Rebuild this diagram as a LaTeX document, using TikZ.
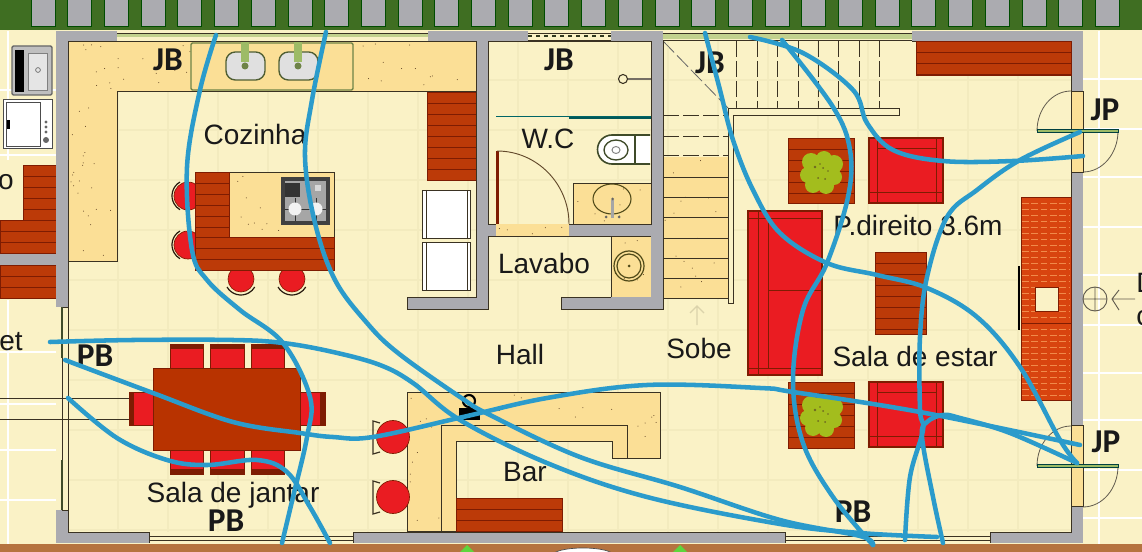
\documentclass[tikz,border=0pt]{standalone}
\usepackage{fontspec}
\setmainfont{Liberation Sans}
\newfontfamily\boldlab{Carlito}[BoldFont={Carlito Bold}]
\definecolor{floorc}{HTML}{FAF2C6}
\definecolor{gridc}{HTML}{F3EBBE}
\definecolor{bandg}{HTML}{3F6E22}
\definecolor{wallg}{HTML}{ABABB0}
\definecolor{earth}{HTML}{B5733F}
\definecolor{sandc}{HTML}{FBDF96}
\definecolor{woodc}{HTML}{BC3A08}
\definecolor{woodl}{HTML}{7E1C02}
\definecolor{sofac}{HTML}{EA1C22}
\definecolor{tablec}{HTML}{B83300}
\definecolor{brickc}{HTML}{D8440F}
\definecolor{brickl}{HTML}{F08A4A}
\definecolor{bluec}{HTML}{2B9BCB}
\definecolor{greenl}{HTML}{9DBB66}
\definecolor{bushc}{HTML}{A3BD1D}
\definecolor{linec}{HTML}{3A3222}
\tikzset{
 wallbox/.style={fill=wallg,draw=none},
 sandbox/.style={fill=sandc,draw=linec,line width=.6pt},
 thinline/.style={draw=linec,line width=.6pt},
 dashline/.style={draw=linec,line width=.6pt,dash pattern=on 12pt off 3pt},
 route/.style={draw=bluec,line width=3.4pt,line cap=round,line join=round},
 roomlabel/.style={font=\fontsize{21}{21}\selectfont,text=black!90,inner sep=0pt},
 codelabel/.style={font=\boldlab\bfseries\fontsize{25}{25}\selectfont,text=black!90,inner sep=0pt},
}
% wood block with plank lines
\newcommand{\woodblock}[4]{%
 \fill[woodc] (#1,#2) rectangle (#3,#4);
 \pgfmathsetmacro{\ystep}{#2+11}
 \foreach \yy in {#2,\ystep,...,#4} {\draw[woodl,line width=.4pt] (#1,\yy) -- (#3,\yy);}
 \draw[woodl,line width=.6pt] (#1,#2) rectangle (#3,#4);}
% speckles
\newcommand{\specks}[5]{%
 \foreach \ii in {1,...,#5} {
  \pgfmathsetmacro{\px}{#1+rnd*(#3-#1)}
  \pgfmathsetmacro{\py}{#2+rnd*(#4-#2)}
  \fill[black!55!brown] (\px,\py) circle[radius=.5];}}
% chair
\newcommand{\chairbox}[4]{\fill[sofac,draw=woodl,line width=.5pt] (#1,#2) rectangle (#3,#4);}
% bush
\newcommand{\bushat}[2]{%
 \begin{scope}[shift={(#1,#2)}]
 \fill[bushc] (-10,-10) circle[radius=9] (3,-13) circle[radius=8] (13,-8) circle[radius=9] (-13,3) circle[radius=8] (13,5) circle[radius=8] (-8,13) circle[radius=8] (5,14) circle[radius=8] (0,0) circle[radius=12];
 \fill[olive!70!black] (-6,-5) circle[radius=1.3] (2,-4) circle[radius=1] (-3,6) circle[radius=1] (4,7) circle[radius=1] (-1,-8) circle[radius=.9] (7,-1) circle[radius=.9];
 \end{scope}}
\begin{document}
\begin{tikzpicture}[x=0.75pt,y=-0.75pt]
\clip (0,0) rectangle (1142,552);
\fill[floorc] (0,0) rectangle (1142,552);
% faint floor grid
\foreach \xx in {118,168,218,268,318,368,418,468,518,568,618,668,718,768,818,868,918,968,1018} {\draw[gridc,line width=.8pt] (\xx,41) -- (\xx,532);}
\foreach \yy in {80,130,180,230,280,330,380,430,480,530} {\draw[gridc,line width=.8pt] (68,\yy) -- (1071,\yy);}
% outside tiles
\foreach \yy in {79,129,177,227,275,325,373,420,470,518} {\draw[white,line width=1.5pt] (1083,\yy) -- (1142,\yy);}
\draw[white,line width=1.5pt] (1099,31) -- (1099,545);
\foreach \yy in {352,404,450,500} {\draw[white,line width=1.5pt] (0,\yy) -- (56,\yy);}
\draw[white,line width=1.5pt] (8,300) -- (8,545);
\draw[white,line width=1.5pt] (0,90) -- (56,90) (0,155) -- (56,155);
\draw[white,line width=1.5pt] (8,31) -- (8,160);
% top band
\fill[bandg] (0,0) rectangle (1142,30);
\foreach \ii in {0,...,29} {
 \pgfmathsetmacro{\xa}{31+36.7*\ii}
 \fill[wallg,draw=black!70!green,line width=.5pt] (\xa,-2) rectangle (\xa+24,26);}
% bottom band
\fill[earth] (0,544) rectangle (1142,552);
\fill[greenl!60!green] (460,552) -- (467,545) -- (474,552) -- cycle (673,552) -- (680,545) -- (687,552) -- cycle;
\fill[white,draw=black!70,line width=.5pt] (553,555) arc[start angle=180,end angle=360,x radius=30,y radius=7];
% kitchen counters
\draw[sandbox] (68,41) -- (476,41) -- (476,91) -- (117,91) -- (117,261) -- (68,261) -- cycle;
\pgfmathsetseed{4242}
\specks{70}{44}{115}{258}{32}
\specks{118}{44}{190}{88}{12}
\specks{356}{44}{474}{88}{12}
% sink
\draw[fill=sandc,draw=greenl!70!black,line width=1.1pt,rounded corners=1pt] (191,43) rectangle (353,90);
\foreach \xa in {226,279} {
 \draw[fill=black!12,draw=greenl!50!black,line width=1pt,rounded corners=7pt] (\xa,52) rectangle (\xa+39,80);
 \fill[greenl] (\xa+15,41) rectangle (\xa+23,62);
 \fill[greenl!70!black] (\xa+19,66) circle[radius=3.5];}
% wood cabinet, appliances
\woodblock{427}{92}{476}{180}
\foreach \yt in {190,242} {
 \draw[fill=white,draw=linec,line width=.6pt] (422,\yt) rectangle (470,\yt+48);
 \draw[linec,line width=.6pt] (426,\yt) -- (426,\yt+48) (467,\yt) -- (467,\yt+48);}
% outside appliances
\draw[fill=black!25,draw=black!60,line width=1pt,rounded corners=1pt] (12,46) rectangle (52,95);
\fill[black] (15,50) rectangle (24,92);
\draw[fill=black!10,draw=black!50,line width=.5pt] (28,53) rectangle (47,90);
\draw[black!60,line width=.5pt] (38,70) circle[radius=2.4];
\draw[fill=white,draw=black!70,line width=.7pt] (3,99) rectangle (52,148);
\draw[black!70,line width=.7pt] (6,102) rectangle (40,146);
\fill[black] (7,120) rectangle (10,129);
\foreach \yy in {122,127,132} {\fill[black!60] (46,\yy) circle[radius=1.6];}
\fill[black!60] (46,140) circle[radius=3];
% outside wood
\woodblock{23}{165}{56}{220}
\woodblock{0}{220}{56}{254}
\fill[wallg] (0,254) rectangle (56,265);
\woodblock{0}{265}{56}{298}
% kitchen stools
\foreach \cy in {196,245} {
 \fill[sofac,draw=woodl,line width=.5pt] (188,\cy) circle[radius=14];
 \draw[black!80!brown,line width=.9pt] (180,\cy-14) arc[start angle=240,end angle=120,radius=16];}
\foreach \cx in {241,292} {
 \fill[sofac,draw=woodl,line width=.5pt] (\cx,279) circle[radius=13];
 \draw[black!80!brown,line width=.9pt] (\cx-14,287) arc[start angle=150,end angle=30,radius=16];}
% island
\draw[sandbox] (229,172) rectangle (334,237);
\woodblock{195}{172}{229}{270}
\woodblock{195}{237}{334}{270}
\specks{232}{175}{279}{235}{10}
\fill[black!75] (281,177) rectangle (330,225);
\fill[black!35] (285,181) rectangle (326,221);
\fill[black!80] (285,183) rectangle (300,197);
\fill[black!15] (315,185) rectangle (321,191);
\draw[black!80,line width=.6pt] (285,209) -- (326,209) (295,198) -- (295,221) (316,198) -- (316,221);
\fill[black!5] (295,209) circle[radius=6.5] (316,209) circle[radius=6.5];
% WC and lavabo fixtures
\draw[sandbox] (573,183) rectangle (651,224);
\draw[sandbox] (611,236) rectangle (651,297);
\pgfmathsetseed{77}
\specks{575}{186}{649}{222}{8}
\specks{613}{238}{649}{295}{6}
\draw[draw=linec!70!olive,line width=.8pt] (612,199) ellipse[x radius=19,y radius=15];
\fill[black!35] (611,200) rectangle (614,218);
\fill[black!60] (612.5,199) circle[radius=1.5] (606,217) circle[radius=1.5] (619,217) circle[radius=1.5];
\draw[linec!70!olive,line width=.9pt] (629,266) circle[radius=15] (629,266) circle[radius=12];
\fill[linec!70!olive] (629,266) circle[radius=1.5];
% toilet
\draw[fill=white,draw=greenl!40!black,line width=1.2pt] (650,135) -- (612,135) arc[start angle=-90,end angle=-270,radius=14.5] -- (650,164);
\draw[draw=greenl!40!black,line width=1pt] (616,150) ellipse[x radius=12,y radius=10];
\draw[black!50,line width=.7pt] (616,150) ellipse[x radius=4,y radius=3.5];
\draw[greenl!40!black,line width=1pt] (635,135) -- (635,164);
% shower
\draw[linec,fill=floorc,line width=.8pt] (623,79) circle[radius=4.5];
\draw[linec!70,line width=1.2pt] (628,79) -- (651,79);
\draw[teal!80!black,line width=1.4pt] (496,116.5) -- (651,116.5);
\draw[teal!70!black,line width=2pt] (569,118) -- (651,118);
% bath door
\fill[woodl] (496,151) rectangle (499,224);
\draw[linec!70!brown,line width=.7pt] (497,151) arc[start angle=-90,end angle=0,x radius=72,y radius=73];
% stairs
\fill[sandc] (663,157) rectangle (728,298);
\pgfmathsetseed{31}
\specks{665}{160}{726}{296}{16}
\foreach \yy in {177,197,217,238,258,278,298} {\draw[thinline] (663,\yy) -- (733,\yy);}
\foreach \yy in {115,136,155} {\draw[dashline] (663,\yy) -- (728,\yy);}
\foreach \xx in {736,757,777,798,818,838,859,879} {\draw[dashline] (\xx,41) -- (\xx,115);}
\draw[dashline,draw=black!60] (663,41) -- (728,108);
\draw[thinline,fill=floorc] (728,108) -- (899,108) -- (899,115) -- (733,115) -- (733,303) -- (728,303) -- cycle;
% walls
\fill[wallg] (56,31) rectangle (68,307);
\fill[wallg] (56,510) rectangle (68,543);
\fill[wallg] (56,31) rectangle (117,41);
\fill[wallg] (428,31) rectangle (528,41);
\fill[wallg] (611,31) rectangle (663,41);
\fill[wallg] (912,31) rectangle (1083,41);
\fill[wallg] (1071,31) rectangle (1083,91);
\fill[wallg] (1071,172) rectangle (1083,425);
\fill[wallg] (1071,506) rectangle (1083,543);
\fill[wallg] (56,532) rectangle (149,543);
\fill[wallg] (353,532) rectangle (785,543);
\fill[wallg] (990,532) rectangle (1083,543);
\fill[wallg] (476,31) rectangle (488,309);
\fill[wallg] (651,31) rectangle (663,309);
\fill[wallg] (407,297) rectangle (488,309);
\fill[wallg] (561,297) rectangle (663,309);
\fill[wallg] (488,224) rectangle (496,236);
\fill[wallg] (569,224) rectangle (651,236);
\fill[sandc] (496,224) rectangle (569,236);
\pgfmathsetseed{99}
\specks{498}{226}{567}{234}{5}
\draw[linec,line width=.6pt] (68,41) -- (68,532) -- (149,532) (353,532) -- (785,532) (990,532) -- (1071,532) -- (1071,506) (1071,425) -- (1071,172) (1071,91) -- (1071,41) -- (912,41);
\draw[linec,line width=.6pt] (488,41) -- (488,224) -- (496,224) (569,224) -- (651,224) -- (651,41) -- (488,41) (476,41) -- (476,297) -- (407,297) (488,236) -- (488,309) -- (407,309) -- (407,297) (561,297) -- (611,297) (561,297) -- (561,309) -- (663,309) -- (663,41) (488,236) -- (611,236) (117,41) -- (428,41);
% windows
\fill[floorc] (117,31) rectangle (428,41);
\draw[linec,line width=.5pt] (117,33) -- (428,33) (117,41) -- (428,41);
\fill[greenl!60!floorc] (117,34) rectangle (428,37);
\fill[floorc] (528,31) rectangle (611,41);
\draw[dashed,greenl!30!black,line width=1pt] (528,36) -- (611,36);
\draw[linec,line width=.5pt] (528,33) -- (611,33) (528,40) -- (611,40);
\fill[greenl!60!floorc] (663,33) rectangle (912,39);
\draw[linec,line width=.5pt] (663,33) -- (912,33) (663,40) -- (912,40);
\draw[linec,line width=.5pt] (62,307) rectangle (68,510);
\draw[greenl!40!black,line width=1.2pt] (62,307) -- (62,358) (62,460) -- (62,510);
\fill[floorc] (149,533) rectangle (353,543);
\draw[linec,line width=.5pt] (149,536) -- (353,536) (149,540) -- (353,540) (149,532) -- (149,543) (353,532) -- (353,543);
\fill[floorc] (785,533) rectangle (990,543);
\draw[linec,line width=.5pt] (785,536) -- (990,536) (785,540) -- (990,540) (785,532) -- (785,543) (990,532) -- (990,543);
\draw[linec,line width=.6pt] (0,398) -- (129,398) (0,419) -- (129,419);
% doors right
\foreach \ya/\yb in {91/131,425/466} {
 \fill[sandc,draw=linec,line width=.5pt] (1071,\ya) rectangle (1083,\ya+81);
 \draw[linec!80,line width=.6pt] (1037,\yb) arc[start angle=180,end angle=270,x radius=34,y radius=40];
 \draw[linec!80,line width=.6pt] (1118,\yb) arc[start angle=0,end angle=90,x radius=35,y radius=41];
 \draw[fill=greenl,draw=teal!50!black,line width=.5pt] (1037,\yb-1.5) rectangle (1118,\yb+1.5);}
% right wood
\woodblock{916}{41}{1071}{75}
% living room furniture
\woodblock{788}{138}{854}{203}
\bushat{821}{172}
\woodblock{788}{382}{854}{448}
\bushat{821}{415}
\foreach \ya in {138,382} {
 \fill[sofac,draw=woodl,line width=.8pt] (869,\ya) rectangle (943,\ya+65);
 \draw[woodl,line width=.5pt] (877,\ya) -- (877,\ya+65) (936,\ya) -- (936,\ya+65) (877,\ya+10) -- (936,\ya+10) (869,\ya+54) -- (943,\ya+54);}
% sofa
\fill[sofac,draw=woodl,line width=.8pt] (748,211) rectangle (822,375);
\draw[woodl,line width=.5pt] (758,211) -- (758,375) (768,218) -- (768,368) (748,218) -- (822,218) (748,368) -- (822,368) (768,290) -- (822,290);
% coffee table
\woodblock{875}{252}{926}{334}
% fireplace
\fill[brickc,draw=woodl,line width=.5pt] (1021,197) rectangle (1071,400);
\foreach \yy in {203,209,...,397} {\draw[brickl,line width=.5pt,dash pattern=on 5pt off 2pt] (1022,\yy) -- (1070,\yy);}
\fill[floorc,draw=woodl,line width=.5pt] (1035,287) rectangle (1058,311);
\draw[black,line width=2pt] (1019,266) -- (1019,330);
\draw[woodl,line width=.5pt] (1021,323) -- (1071,323);
% compass
\draw[linec!80,line width=.7pt] (1095,299) circle[radius=12] (1083,299) -- (1107,299) (1095,287) -- (1095,311);
\draw[linec!80,line width=.7pt] (1112,299) -- (1135,299) (1119,290) -- (1112,299) -- (1119,310);
% dining
\foreach \xa/\xb in {170/203,210/244,251/284} {
 \chairbox{\xa}{344}{\xb}{368}
 \fill[woodl] (\xa,344) rectangle (\xb,349);
 \chairbox{\xa}{450}{\xb}{474}
 \fill[woodl] (\xa,469) rectangle (\xb,474);}
\chairbox{129}{392}{153}{425}
\fill[woodl] (129,392) rectangle (134,425);
\chairbox{300}{392}{325}{425}
\fill[woodl] (320,392) rectangle (325,425);
\fill[tablec,draw=woodl,line width=.6pt] (153,368) rectangle (300,450);
% bar
\draw[sandbox] (407,392) -- (660,392) -- (660,458) -- (612,458) -- (612,441) -- (456,441) -- (456,531) -- (407,531) -- cycle;
\draw[thinline] (441,531) -- (441,425) -- (627,425) -- (627,458);
\pgfmathsetseed{1234}
\specks{409}{394}{439}{529}{10}
\specks{443}{394}{658}{423}{12}
\specks{630}{394}{658}{456}{4}
\woodblock{456}{498}{562}{531}
% bar stools
\foreach \cy in {437,497} {
 \draw[linec,line width=.9pt] (380,\cy-14) -- (373,\cy-16) -- (373,\cy+17) -- (380,\cy+15);
 \fill[sofac,draw=woodl,line width=.5pt] (393,\cy) circle[radius=16.5];}
% tap on the bar
\draw[black,line width=1.6pt] (469,401) circle[radius=6];
\fill[black] (459,408) rectangle (480,420);
% faint arrow
\draw[gridc!90!black,line width=1pt] (697,325) -- (697,306) (690,313) -- (697,306) -- (704,313);
% room labels
\node[roomlabel] (cozinha) at (255,134) {Cozinha};
\node[roomlabel] (wc) at (548,139) {W.C};
\node[roomlabel] (lavabo) at (544,263) {Lavabo};
\node[roomlabel] (direito) at (918,225) {P.direito 3.6m};
\node[roomlabel] (hall) at (520,354) {Hall};
\node[roomlabel] (sobe) at (699,348) {Sobe};
\node[roomlabel] (estar) at (915,356) {Sala de estar};
\node[roomlabel] (jantar) at (233,495) {Sala de jantar};
\node[roomlabel] (bar) at (525,472) {Bar};
\node[roomlabel,anchor=east] (et) at (23,342) {et};
\node[roomlabel,anchor=east] (oo) at (14,182) {o};
\node[roomlabel,anchor=west] (dd) at (1136,283) {D};
\node[roomlabel,anchor=west] (cc) at (1136,318) {c};
% code labels
\node[codelabel] (jb1) at (168,60) {JB};
\node[codelabel] (jb2) at (559,60) {JB};
\node[codelabel] (jb3) at (710,63) {JB};
\node[codelabel] (jp1) at (1105,110) {JP};
\node[codelabel] (jp2) at (1106,442) {JP};
\node[codelabel] (pb1) at (95,356) {PB};
\node[codelabel] (pb2) at (226,521) {PB};
\node[codelabel] (pb3) at (853,512) {PB};
% routes
\draw[route] plot[smooth,tension=.6] coordinates {(216,35) (200,90) (187,167) (192,250) (207,280) (240,310) (283,343) (310,397) (307,437) (293,497) (282,543)};
\draw[route] plot[smooth,tension=.6] coordinates {(326,32) (312,100) (305,157) (315,223) (335,280) (367,323) (398,353) (460,397) (490,415) (580,457) (680,487) (780,520) (860,536) (873,545)};
\draw[route] plot[smooth,tension=.6] coordinates {(50,342) (133,340) (233,340) (283,343) (333,352) (380,365) (413,383) (460,420) (547,463) (647,497) (780,524) (860,533) (937,537)};
\draw[route] plot[smooth,tension=.6] coordinates {(65,360) (153,393) (233,422) (300,433) (333,437) (373,437) (463,417) (547,398) (647,385) (760,388) (793,392) (920,412) (1080,445)};
\draw[route] plot[smooth,tension=.6] coordinates {(68,398) (117,438) (167,460) (207,465) (257,460) (287,472) (310,507) (330,543)};
\draw[route] plot[smooth,tension=.6] coordinates {(705,33) (720,90) (733,140) (753,190) (780,233) (827,263) (877,275) (927,288) (977,317) (1020,367) (1060,440) (1077,463)};
\draw[route] plot[smooth,tension=.6] coordinates {(782,40) (833,107) (850,150) (848,197) (827,263) (803,310) (793,380) (803,443) (833,497) (873,545)};
\draw[route] plot[smooth,tension=.6] coordinates {(750,37) (803,53) (853,90) (867,123) (893,150) (943,161) (1013,161) (1083,156)};
\draw[route] plot[smooth,tension=.6] coordinates {(1080,132) (1020,160) (977,190) (947,217) (927,277) (920,337) (920,410) (923,430) (910,477) (905,540)};
\draw[route] plot[smooth,tension=.6] coordinates {(1077,463) (1010,433) (960,418) (943,415) (927,422) (922,437) (933,497) (943,543)};
\end{tikzpicture}
\end{document}
